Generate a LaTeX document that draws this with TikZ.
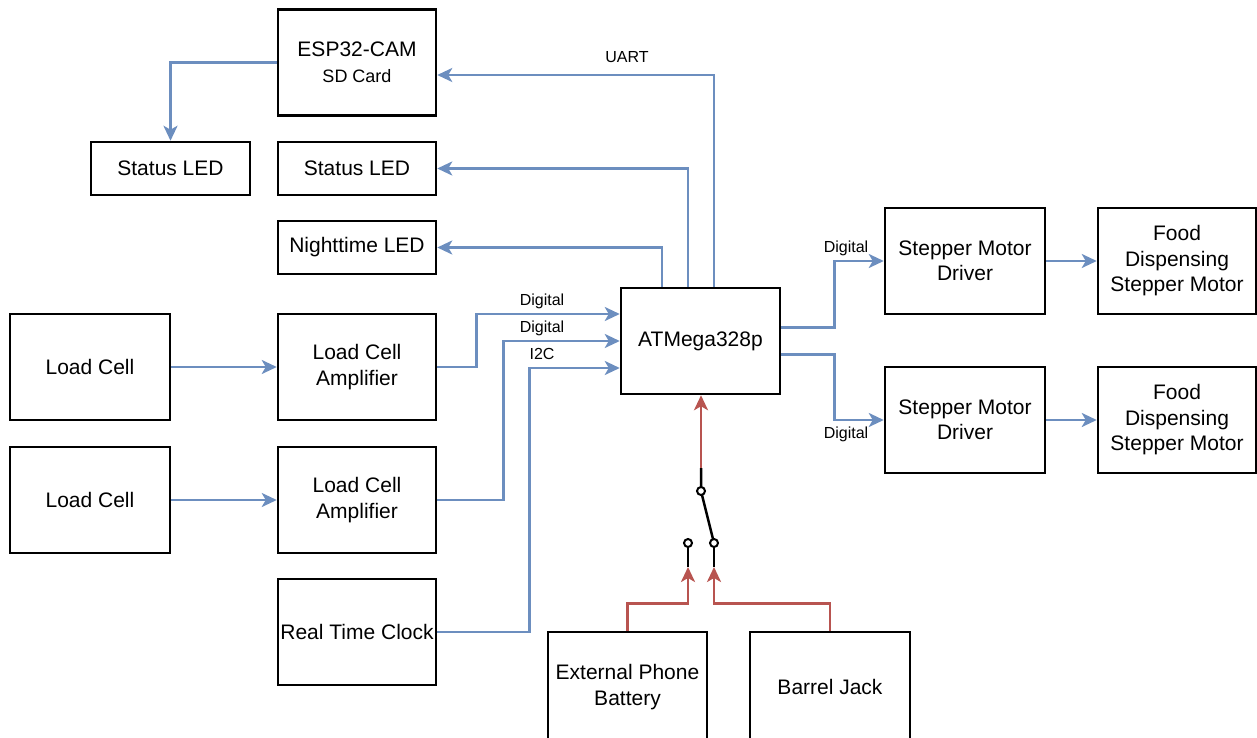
\documentclass[tikz,border=0pt]{standalone}
\usepackage{fontspec}
\setmainfont{Liberation Sans}
\usetikzlibrary{arrows.meta,positioning}
\definecolor{wireblue}{HTML}{6C8EBF}
\definecolor{wirered}{HTML}{B85450}

\begin{document}
\begin{tikzpicture}[x=1pt,y=-1pt,
  box/.style={draw,line width=2.5pt,minimum width=158pt,minimum height=106pt,inner sep=1pt,align=center,font=\fontsize{21}{25.5}\selectfont},
  ledbox/.style={box,minimum height=53pt},
  sig/.style={draw=wireblue,line width=2.6pt,-{Stealth[length=15pt,width=14pt,inset=4pt]}},
  pwr/.style={draw=wirered,line width=2.6pt,-{Stealth[length=15pt,width=14pt,inset=4pt]}},
  lbl/.style={font=\fontsize{16}{19}\selectfont,inner sep=0pt}]
\useasboundingbox (0,0) rectangle (1257,738);
% boxes
\node[box] (esp) at (357,62.5) {ESP32-CAM\\[0pt]{\fontsize{18}{21}\selectfont SD Card}};
\node[ledbox,minimum width=159pt] (sled0) at (170.5,168.5) {Status LED};
\node[ledbox] (sled) at (357,168.5) {Status LED};
\node[ledbox] (night) at (357,247.5) {Nighttime LED};
\node[box,minimum width=160pt] (lc1) at (90,367) {Load Cell};
\node[box] (lca1) at (357,367) {Load Cell\\Amplifier};
\node[box,minimum width=160pt] (lc2) at (90,500) {Load Cell};
\node[box] (lca2) at (357,500) {Load Cell\\Amplifier};
\node[box] (rtc) at (357,632) {Real Time Clock};
\node[box,minimum width=159pt] (atm) at (700.5,341) {ATMega328p};
\node[box,minimum width=160pt] (smd1) at (965,261) {Stepper Motor\\Driver};
\node[box,minimum width=160pt] (smd2) at (965,420) {Stepper Motor\\Driver};
\node[box] (food1) at (1177,261) {Food\\Dispensing\\Stepper Motor};
\node[box] (food2) at (1177,420) {Food\\Dispensing\\Stepper Motor};
\node[box,minimum width=159pt,minimum height=110pt] (bat) at (627.5,687) {External Phone\\Battery};
\node[box,minimum width=160pt,minimum height=110pt] (jack) at (830,687) {Barrel Jack};
% switch
\coordinate (swt) at (701,468);
\coordinate (swc) at (701,491);
\coordinate (swa) at (688,543);
\coordinate (swb) at (714,543);
\coordinate (swa0) at (688,567);
\coordinate (swb0) at (714,567);
% signal wires
\draw[sig] (esp.west) -| (sled0.north);
\draw[sig] ([xshift=13.5pt]atm.north) |- ([yshift=-12.5pt]esp.east);
\draw[sig] ([xshift=-12.5pt]atm.north) |- (sled.east);
\draw[sig] ([xshift=-38.5pt]atm.north) |- (night.east);
\draw[sig] (lc1) -- (lca1);
\draw[sig] (lc2) -- (lca2);
\draw[sig] (lca1.east) -- ++(39,0) |- ([yshift=27pt]atm.west);
\draw[sig] (lca2.east) -- ++(66,0) |- (atm.west);
\draw[sig] (rtc.east) -- ++(92,0) |- ([yshift=-27pt]atm.west);
\draw[sig] ([yshift=13.5pt]atm.east) -- ++(53,0) |- (smd1.west);
\draw[sig] ([yshift=-13.5pt]atm.east) -- ++(53,0) |- (smd2.west);
\draw[sig] (smd1) -- (food1);
\draw[sig] (smd2) -- (food2);
\node[lbl] (uartlbl) at (627,57) {UART};
\node[lbl] (dig1) at (542,301) {Digital};
\node[lbl] (dig2) at (542,328) {Digital};
\node[lbl] (i2clbl) at (542,354) {I2C};
\node[lbl] (dig3) at (846,248) {Digital};
\node[lbl] (dig4) at (846,434) {Digital};
% power wires
\draw[pwr] (swt) -- (swt |- atm.south);
\draw[pwr] (bat.north) -- ++(0,-27) -| (swa0);
\draw[pwr] (jack.north) -- ++(0,-27) -| (swb0);
\draw[line width=2.5pt] (swt) -- (swc) -- (swb);
\draw[line width=2.5pt] (swa) -- (swa0);
\draw[line width=2.5pt] (swb) -- (swb0);
\foreach \p in {swc,swa,swb}
  \draw[line width=2pt,fill=white] (\p) circle (4pt);
\end{tikzpicture}
\end{document}
